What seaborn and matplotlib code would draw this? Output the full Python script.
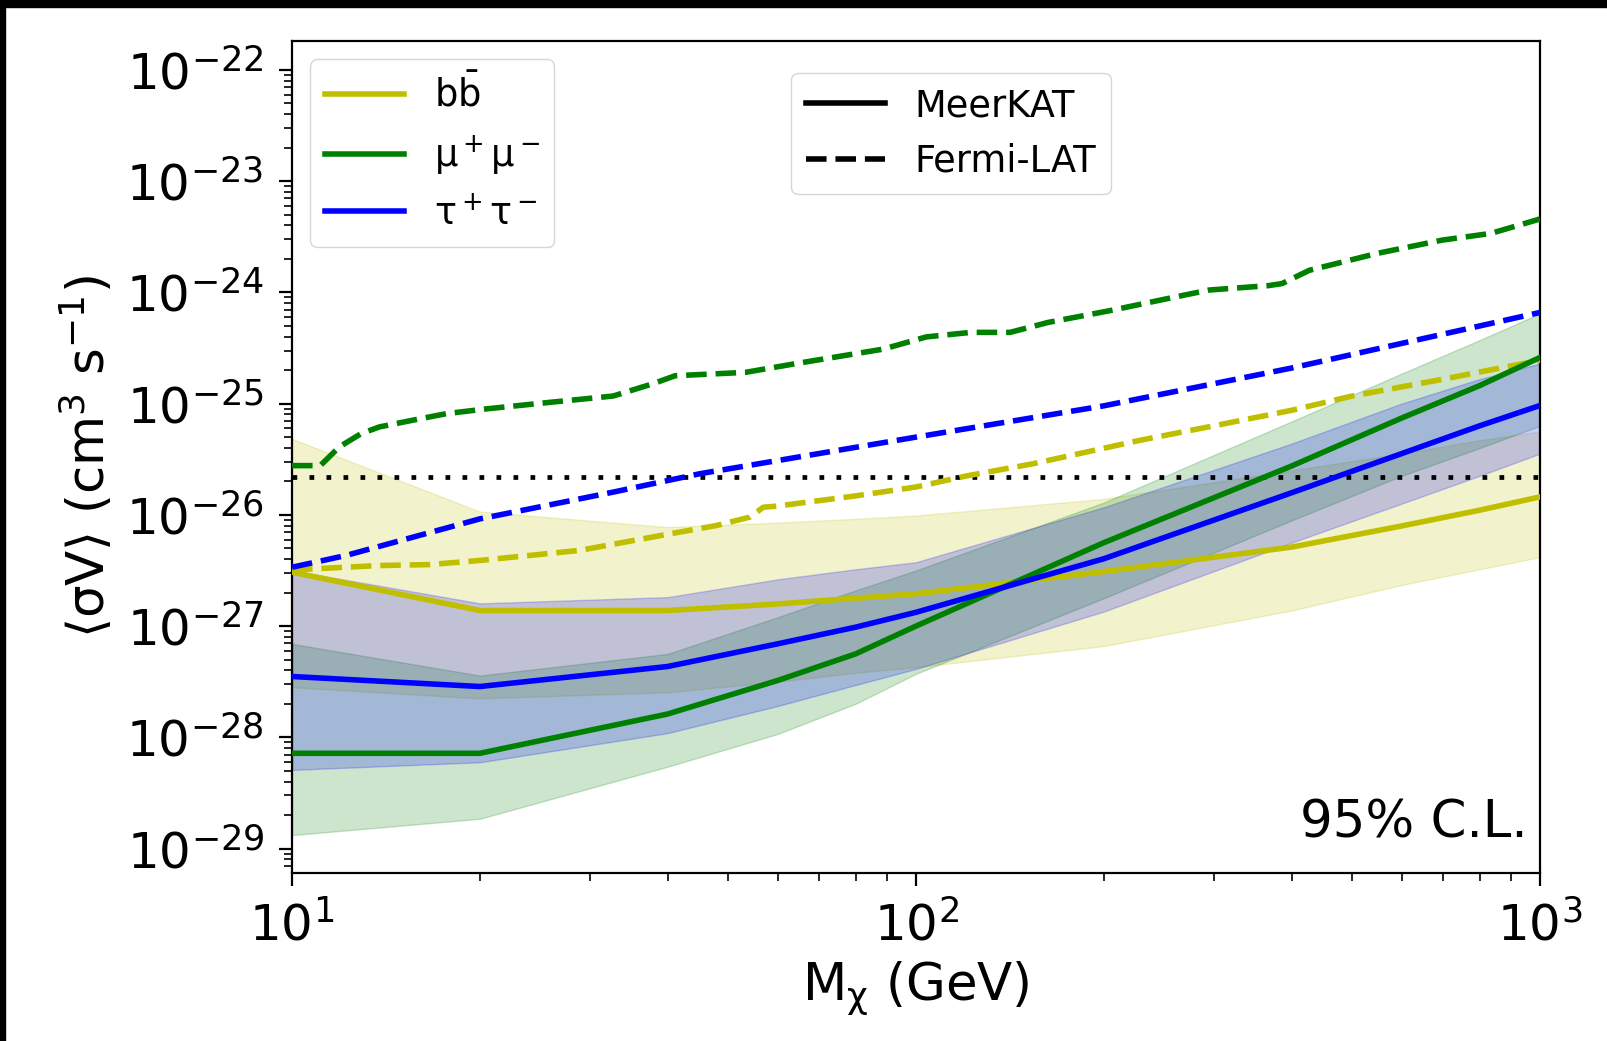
import numpy as np
import pandas as pd
import seaborn as sns
import matplotlib.pyplot as plt
from matplotlib.lines import Line2D
from matplotlib.patches import Rectangle
from matplotlib.ticker import FixedLocator, NullFormatter

# MeerKAT 95% C.L. limits on <sigma v> (cm^3 s^-1) vs DM mass (GeV)
mass = [10, 20, 40, 60, 80, 100, 200, 400, 600, 800, 1000]

bb_mid = [3.05e-27, 1.38e-27, 1.38e-27, 1.58e-27, 1.78e-27, 1.95e-27, 3.09e-27, 5.13e-27, 7.94e-27, 1.10e-26, 1.45e-26]
bb_hi = [4.82e-26, 1.07e-26, 7.76e-27, 8.51e-27, 9.20e-27, 9.86e-27, 1.39e-26, 2.51e-26, 3.55e-26, 4.68e-26, 5.62e-26]
bb_lo = [2.82e-28, 2.24e-28, 2.54e-28, 3.16e-28, 3.80e-28, 4.27e-28, 6.61e-28, 1.38e-27, 2.34e-27, 3.24e-27, 4.17e-27]

mu_mid = [7.18e-29, 7.18e-29, 1.62e-28, 3.24e-28, 5.62e-28, 1.00e-27, 5.62e-27, 2.75e-26, 7.41e-26, 1.45e-25, 2.60e-25]
mu_hi = [6.92e-28, 3.59e-28, 5.62e-28, 1.20e-27, 2.09e-27, 3.16e-27, 1.29e-26, 6.92e-26, 1.86e-25, 3.72e-25, 6.46e-25]
mu_lo = [1.32e-29, 1.85e-29, 5.44e-29, 1.07e-28, 2.00e-28, 3.72e-28, 1.78e-27, 8.91e-27, 2.24e-26, 3.98e-26, 6.31e-26]

tau_mid = [3.52e-28, 2.86e-28, 4.33e-28, 6.92e-28, 9.77e-28, 1.33e-27, 4.03e-27, 1.58e-26, 3.55e-26, 6.31e-26, 9.62e-26]
tau_hi = [3.16e-27, 1.60e-27, 1.82e-27, 2.63e-27, 3.24e-27, 3.75e-27, 1.17e-26, 4.37e-26, 1.00e-25, 1.66e-25, 2.29e-25]
tau_lo = [5.09e-29, 5.96e-29, 1.09e-28, 1.91e-28, 2.95e-28, 4.12e-28, 1.35e-27, 5.62e-27, 1.26e-26, 2.24e-26, 3.55e-26]

# Fermi-LAT limits
fermi_mu_mass = [10, 11.1, 11.9, 12.9, 13.8, 15.9, 17.7, 20.5, 25.6, 32.7, 37.9, 41.1, 53.3, 64.2,
                 88.6, 103.9, 122.5, 141.5, 162.8, 205, 261, 295, 367, 386, 427, 548, 697, 834, 1000]
fermi_mu = [2.77e-26, 2.77e-26, 4.07e-26, 5.37e-26, 6.17e-26, 7.24e-26, 8.13e-26, 8.97e-26, 1.02e-25,
            1.17e-25, 1.51e-25, 1.78e-25, 1.91e-25, 2.29e-25, 3.09e-25, 3.98e-25, 4.37e-25, 4.37e-25,
            5.37e-25, 6.87e-25, 9.12e-25, 1.05e-24, 1.15e-24, 1.20e-24, 1.58e-24, 2.24e-24, 2.95e-24,
            3.39e-24, 4.57e-24]

fermi_tau_mass = [10, 12.2, 20, 32.7, 45, 100, 200, 400, 1000]
fermi_tau = [3.38e-27, 4.31e-27, 9.20e-27, 1.60e-26, 2.34e-26, 5.00e-26, 9.55e-26, 2.09e-25, 6.60e-25]

fermi_bb_mass = [10, 13.8, 16.6, 20, 28.9, 40.4, 47.9, 54.2, 56.9, 60, 80, 100, 120.6, 154, 228.6,
                 300, 400, 500, 700, 1000]
fermi_bb = [3.20e-27, 3.50e-27, 3.57e-27, 3.89e-27, 4.79e-27, 6.76e-27, 8.02e-27, 9.55e-27, 1.17e-26,
            1.20e-26, 1.48e-26, 1.78e-26, 2.24e-26, 2.88e-26, 4.68e-26, 6.31e-26, 8.71e-26, 1.17e-25,
            1.66e-25, 2.45e-25]

thermal_relic = 2.2e-26

y_ticks = [1e-29, 1e-28, 1e-27, 1e-26, 1e-25, 1e-24, 1e-23, 1e-22]

channels = [
    ('y', bb_mid, bb_lo, bb_hi, fermi_bb_mass, fermi_bb),
    ('g', mu_mid, mu_lo, mu_hi, fermi_mu_mass, fermi_mu),
    ('b', tau_mid, tau_lo, tau_hi, fermi_tau_mass, fermi_tau),
]

plt.rcParams['font.family'] = 'DejaVu Sans'
plt.rcParams['mathtext.fontset'] = 'dejavusans'

fig = plt.figure(figsize=(16.08, 10.41), dpi=100)
ax = fig.add_axes([0.1816, 0.1614, 0.7761, 0.7992])
ax.set_xscale('log')
ax.set_yscale('log')

lw = 4.0
# uncertainty bands
for color, mid, lo, hi, fm, fv in channels:
    ax.fill_between(mass, lo, hi, color=color, alpha=0.2, zorder=1)

# MeerKAT (solid) and Fermi-LAT (dashed) lines
for color, mid, lo, hi, fm, fv in channels:
    df = pd.DataFrame({'mass': mass, 'sv': mid})
    sns.lineplot(data=df, x='mass', y='sv', color=color, lw=lw, ax=ax, zorder=3, legend=False)
    dff = pd.DataFrame({'mass': fm, 'sv': fv})
    sns.lineplot(data=dff, x='mass', y='sv', color=color, lw=lw, ax=ax, zorder=3,
                 linestyle='--', legend=False)

ax.axhline(thermal_relic, color='k', lw=3.4, linestyle=(0, (1, 2.6)), zorder=2)

ax.set_xlim(10, 1000)
ax.set_ylim(10**-29.22, 10**-21.74)

ax.yaxis.set_major_locator(FixedLocator(y_ticks))
minor_y = [m * t for t in [1e-30] + y_ticks for m in range(2, 10)]
ax.yaxis.set_minor_locator(FixedLocator([v for v in minor_y if 10**-29.22 < v < 10**-21.74]))
ax.yaxis.set_minor_formatter(NullFormatter())
ax.xaxis.set_minor_formatter(NullFormatter())

ax.tick_params(which='major', labelsize=36, length=9.5, width=1.6, pad=11)
ax.tick_params(which='minor', length=5.5, width=1.2)
for s in ax.spines.values():
    s.set_linewidth(1.6)

ax.set_xlabel(r'M$_{\mathrm{\chi}}$ (GeV)', fontsize=37, labelpad=6)
ax.set_ylabel(r'$\langle\mathrm{\sigma V}\rangle$ (cm$^3$ s$^{-1}$)', fontsize=37, labelpad=7)

ax.text(0.99, 0.03, '95% C.L.', transform=ax.transAxes, ha='right', va='bottom', fontsize=37)

h1 = [Line2D([0], [0], color=c, lw=lw) for c in ['y', 'g', 'b']]
leg1 = ax.legend(h1, [r'$\mathrm{b\bar{b}}$', r'$\mathrm{\mu^+\mu^-}$', r'$\mathrm{\tau^+\tau^-}$'],
                 loc='upper left', fontsize=26.5, handlelength=2.15)
ax.add_artist(leg1)
h2 = [Line2D([0], [0], color='k', lw=lw), Line2D([0], [0], color='k', lw=lw, linestyle='--')]
ax.legend(h2, ['MeerKAT', 'Fermi-LAT'], loc='upper left', bbox_to_anchor=(0.40, 0.962),
          borderaxespad=0, fontsize=26.5, handlelength=2.15)

# dark border of the original screenshot
fig.patches.append(Rectangle((0, 1 - 7 / 1041), 1, 7 / 1041, transform=fig.transFigure,
                             color='black', zorder=10))
fig.patches.append(Rectangle((0, 0), 5 / 1608, 1, transform=fig.transFigure,
                             color='black', zorder=10))

fig.savefig('out.png', dpi=100)
